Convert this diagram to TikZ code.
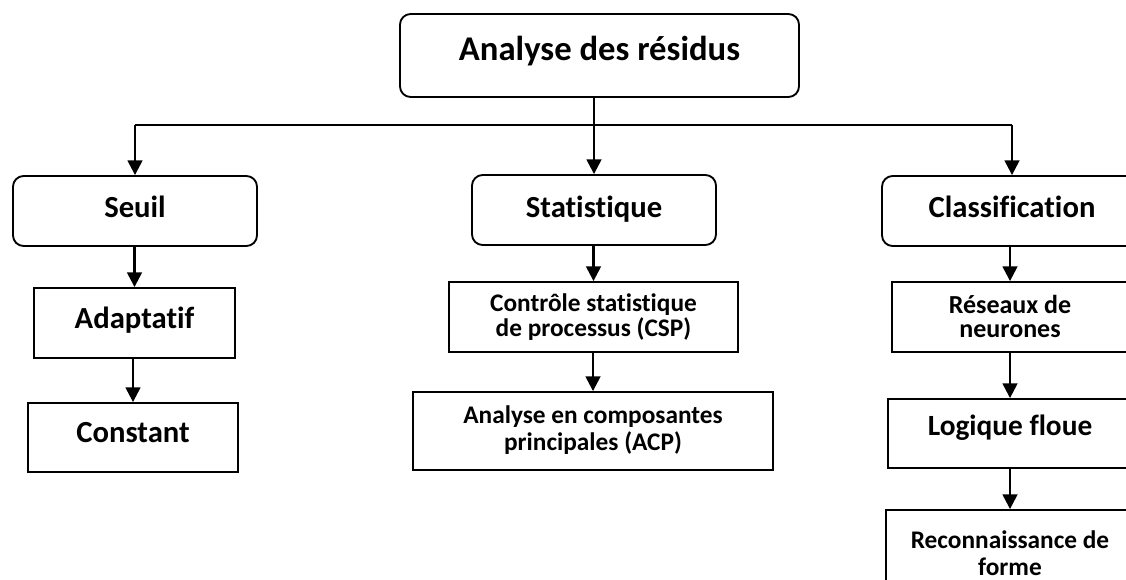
\documentclass[tikz,border=0pt]{standalone}
\usepackage{fontspec}
\setmainfont{Carlito}[Ligatures=NoCommon]
\usetikzlibrary{arrows.meta}
\begin{document}
\begin{tikzpicture}[x=0.75pt,y=-0.75pt,
  frame/.style={draw=black, line width=1.4pt, inner sep=0pt},
  rbox/.style={frame, rounded corners=8pt},
  sqbox/.style={frame},
  sz/.style 2 args={minimum width=#1*0.75pt, minimum height=#2*0.75pt},
  lbl/.style={font=\bfseries\fontsize{#1}{#1}\selectfont, inner sep=0pt, anchor=base},
  lbltwo/.style 2 args={font=\bfseries\fontsize{#1}{#2}\selectfont, align=center, inner sep=0pt, anchor=base},
  conn/.style={line width=1.8pt, -{Triangle[length=11pt,width=11pt]}},
  bus/.style={line width=1.8pt}
]
\useasboundingbox (0,0) rectangle (1126,579);
\clip (0,0) rectangle (1126,579);
\fill[white] (0,0) rectangle (1126,579);

% boxes
\node[rbox, sz={399}{83}] (top) at (599.5,55.5) {};
\node[rbox, sz={244}{70}] (seuil) at (135,211) {};
\node[rbox, sz={244}{70}] (stat) at (594,210) {};
\node[rbox, sz={260}{70}] (class) at (1012,211) {};
\node[sqbox, sz={201}{70}] (adapt) at (134.5,323) {};
\node[sqbox, sz={210}{69}] (const) at (133,437.5) {};
\node[sqbox, sz={289}{70}] (csp) at (593.5,317) {};
\node[sqbox, sz={360}{78}] (acp) at (593,431) {};
\node[sqbox, sz={236}{70}] (reseaux) at (1010,317) {};
\node[sqbox, sz={244}{69}] (logique) at (1010,433.5) {};
\node[sqbox, sz={248}{90}] (recon) at (1010,555) {};

% labels (two-line labels are placed by the baseline of their last line)
\node[lbl=26pt] (ttop) at (599.5,60) {Analyse des résidus};
\node[lbl=23pt] (tseuil) at (135,217) {Seuil};
\node[lbl=23pt] (tstat) at (594,217) {Statistique};
\node[lbl=23pt] (tclass) at (1012,217) {Classification};
\node[lbl=23pt] (tadapt) at (134.5,328) {Adaptatif};
\node[lbl=23pt] (tconst) at (133,442) {Constant};
\node[lbl=22pt] (tlogique) at (1010,435) {Logique floue};
\node[lbltwo={19pt}{18.75pt}] (tcsp) at (593.5,336) {Contrôle statistique\\de processus (CSP)};
\node[lbltwo={19pt}{20pt}] (tacp) at (593,450) {Analyse en composantes\\principales (ACP)};
\node[lbltwo={19.5pt}{18pt}] (treseaux) at (1010,337) {Réseaux de\\neurones};
\node[lbltwo={19pt}{20pt}] (trecon) at (1010,575) {Reconnaissance de\\forme};

% connectors
\coordinate (split) at (594,125);
\draw[bus] (seuil.north |- split) -- (class.north |- split);
\draw[conn] (seuil.north |- split) -- (seuil.north);
\draw[conn] (class.north |- split) -- (class.north);
\draw[conn] (stat.north |- top.south) -- (stat.north);
\draw[conn] (adapt.north |- seuil.south) -- (adapt.north);
\draw[conn] (const.north |- adapt.south) -- (const.north);
\draw[conn] (csp.north |- stat.south) -- (csp.north);
\draw[conn] (acp.north |- csp.south) -- (acp.north);
\draw[conn] (reseaux.north |- class.south) -- (reseaux.north);
\draw[conn] (logique.north |- reseaux.south) -- (logique.north);
\draw[conn] (recon.north |- logique.south) -- (recon.north);
\end{tikzpicture}
\end{document}
